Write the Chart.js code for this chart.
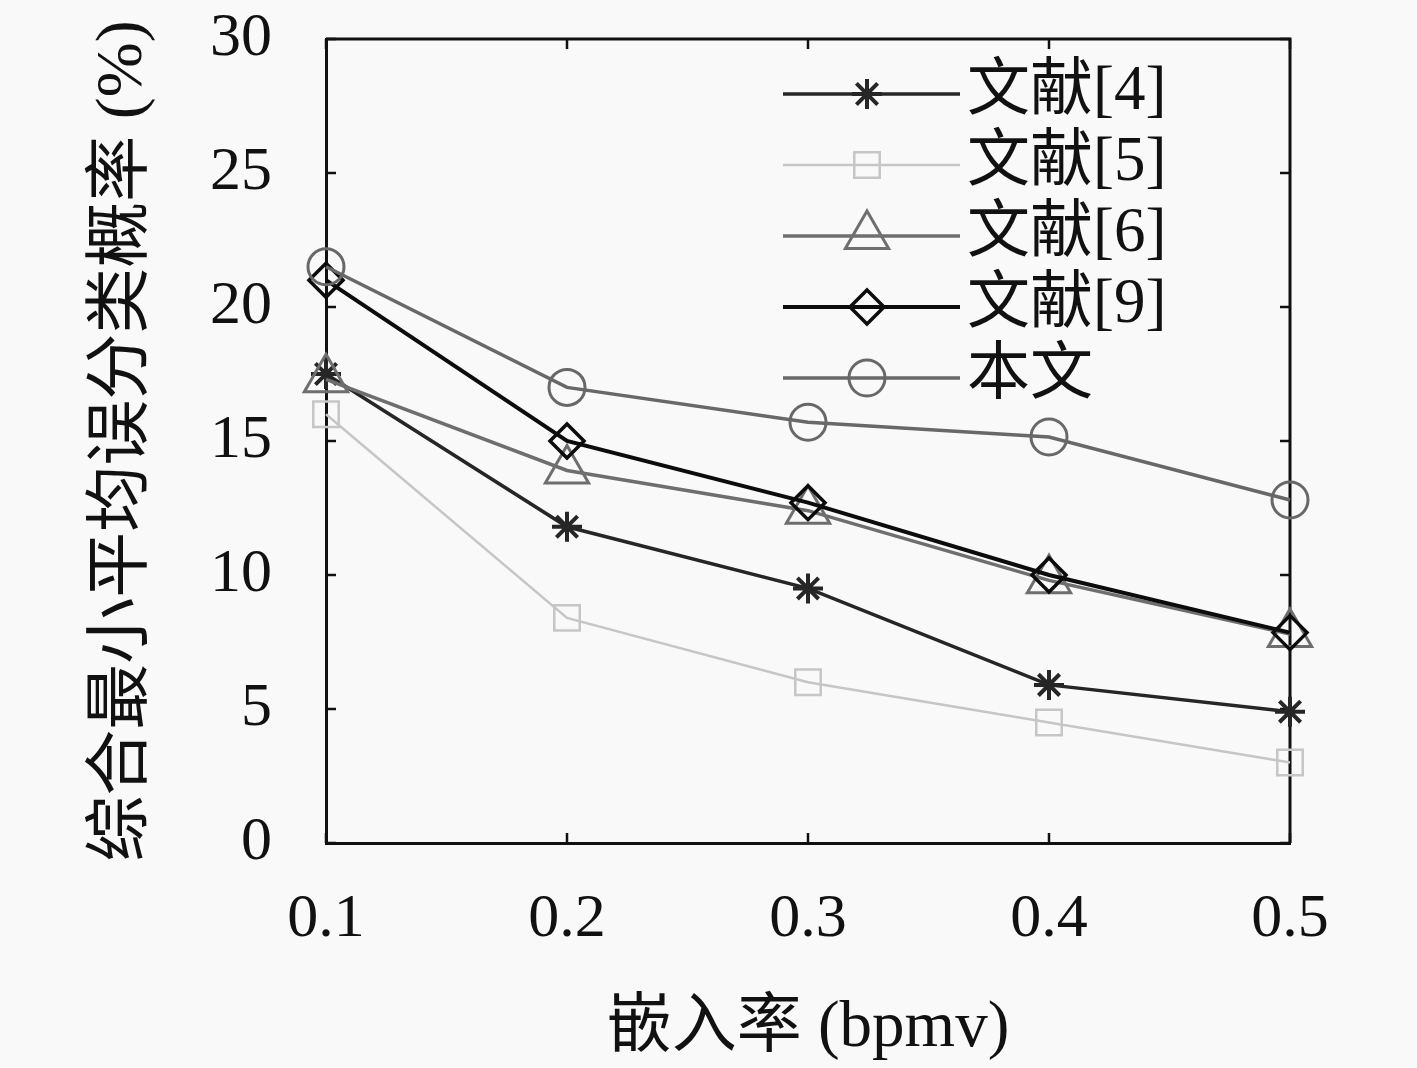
<!DOCTYPE html>
<html>
<head>
    <meta charset="UTF-8">
    <title>嵌入率与综合最小平均误分类概率</title>
    <script src="https://cdn.jsdelivr.net/npm/chart.js"></script>
    <style>
        body {
            margin: 0;
            padding: 0;
            background-color: #f9f9f9;
        }
        .chart-container {
            position: relative;
            width: 1417px;
            height: 1068px;
        }
    </style>
</head>
<body>
    <div class="chart-container">
        <canvas id="rateChart"></canvas>
    </div>

    <script>
        // 数据
        const embedRates = ['0.1', '0.2', '0.3', '0.4', '0.5'];
        const seriesNames = ['文献[4]', '文献[5]', '文献[6]', '文献[9]', '本文'];
        const ref4 = [17.5, 11.8, 9.5, 5.9, 4.9];
        const ref5 = [16.0, 8.4, 6.0, 4.5, 3.0];
        const ref6 = [17.3, 13.9, 12.4, 9.8, 7.8];
        const ref9 = [21.0, 15.0, 12.7, 10.0, 7.85];
        const ours = [21.5, 17.0, 15.7, 15.15, 12.8];
        const yTickValues = [0, 5, 10, 15, 20, 25, 30];

        const numFont = "'Liberation Serif', 'DejaVu Serif', serif";
        const cjkFont = "'Liberation Serif', 'Noto Sans CJK SC', serif";

        function makeSeries(i, values, color, style, radius, width, markWidth) {
            return {
                label: seriesNames[i],
                data: values,
                borderColor: color,
                borderWidth: width,
                pointStyle: style,
                pointRadius: radius,
                pointHoverRadius: radius,
                pointBorderWidth: markWidth,
                pointBorderColor: color,
                pointBackgroundColor: 'rgba(0,0,0,0)',
                tension: 0,
                fill: false,
                clip: false,
                order: 4 - i
            };
        }

        // 背景
        const bgPlugin = {
            id: 'bg',
            beforeDraw(chart) {
                const ctx = chart.ctx;
                ctx.save();
                ctx.fillStyle = '#f9f9f9';
                ctx.fillRect(0, 0, chart.width, chart.height);
                ctx.restore();
            }
        };

        // 上、右边框以及向内的刻度
        const framePlugin = {
            id: 'frame',
            beforeDatasetsDraw(chart) {
                const { ctx, chartArea: a, scales } = chart;
                ctx.save();
                ctx.strokeStyle = '#111';
                ctx.lineWidth = 3;
                ctx.beginPath();
                ctx.moveTo(a.left, a.top);
                ctx.lineTo(a.right, a.top);
                ctx.lineTo(a.right, a.bottom);
                ctx.stroke();
                ctx.lineWidth = 2.5;
                ctx.beginPath();
                yTickValues.forEach(v => {
                    const y = scales.y.getPixelForValue(v);
                    ctx.moveTo(a.left, y); ctx.lineTo(a.left + 10, y);
                    ctx.moveTo(a.right, y); ctx.lineTo(a.right - 10, y);
                });
                embedRates.forEach((r, i) => {
                    const x = scales.x.getPixelForValue(i);
                    ctx.moveTo(x, a.bottom); ctx.lineTo(x, a.bottom - 10);
                    ctx.moveTo(x, a.top); ctx.lineTo(x, a.top + 10);
                });
                ctx.stroke();
                ctx.restore();
            }
        };

        // 图例：线段 + 标记
        const lineLegend = {
            id: 'lineLegend',
            afterDraw(chart) {
                const { ctx, chartArea: a } = chart;
                const x0 = a.right - 507, x1 = a.right - 330, xm = a.right - 423;
                chart.data.datasets.forEach((ds, i) => {
                    const y = a.top + 55 + i * 71;
                    ctx.save();
                    ctx.strokeStyle = ds.borderColor;
                    ctx.lineWidth = ds.borderWidth;
                    ctx.beginPath();
                    ctx.moveTo(x0, y);
                    ctx.lineTo(x1, y);
                    ctx.stroke();
                    ctx.fillStyle = 'rgba(0,0,0,0)';
                    ctx.lineWidth = ds.pointBorderWidth;
                    Chart.helpers.drawPoint(ctx, {
                        pointStyle: ds.pointStyle,
                        radius: ds.pointRadius,
                        borderWidth: ds.pointBorderWidth,
                        rotation: 0
                    }, xm, y);
                    ctx.fillStyle = '#111';
                    ctx.font = '63px ' + cjkFont;
                    ctx.textAlign = 'left';
                    ctx.textBaseline = 'middle';
                    ctx.fillText(ds.label, a.right - 323, y - 2);
                    ctx.restore();
                });
            }
        };

        new Chart(document.getElementById('rateChart'), {
            type: 'line',
            data: {
                labels: embedRates,
                datasets: [
                    makeSeries(0, ref4, '#262626', 'star', 15, 3.5, 4),
                    makeSeries(1, ref5, '#c6c6c6', 'rect', 18, 2.5, 2.5),
                    makeSeries(2, ref6, '#6e6e6e', 'triangle', 25, 3.5, 3),
                    makeSeries(3, ref9, '#0c0c0c', 'rectRot', 17, 4, 3.5),
                    makeSeries(4, ours, '#686868', 'circle', 18, 3.5, 3)
                ]
            },
            options: {
                responsive: true,
                maintainAspectRatio: false,
                animation: false,
                layout: { padding: { top: 39, right: 127, left: 0, bottom: 0 } },
                plugins: {
                    legend: { display: false },
                    tooltip: { enabled: false }
                },
                scales: {
                    x: {
                        offset: false,
                        grid: { display: false, drawTicks: false },
                        border: { display: true, color: '#111', width: 3 },
                        ticks: {
                            color: '#111',
                            padding: 40,
                            font: { family: numFont, size: 62 }
                        },
                        title: {
                            display: true,
                            text: '嵌入率 (bpmv)',
                            color: '#111',
                            font: { family: cjkFont, size: 65 },
                            padding: { top: 0, bottom: 0 }
                        },
                        afterFit(scale) {
                            scale.height = 225;
                            scale.paddingLeft = 0;
                            scale.paddingRight = 0;
                        }
                    },
                    y: {
                        min: 0,
                        max: 30,
                        grid: { display: false, drawTicks: false },
                        border: { display: true, color: '#111', width: 3 },
                        ticks: {
                            stepSize: 5,
                            color: '#111',
                            padding: 54,
                            font: { family: numFont, size: 62 }
                        },
                        title: {
                            display: true,
                            text: '综合最小平均误分类概率 (%)',
                            color: '#111',
                            font: { family: cjkFont, size: 66 },
                            padding: { top: 84, bottom: 0 }
                        },
                        afterFit(scale) {
                            scale.width = 326;
                            scale.paddingTop = 0;
                            scale.paddingBottom = 0;
                        }
                    }
                }
            },
            plugins: [bgPlugin, framePlugin, lineLegend]
        });
    </script>
</body>
</html>
